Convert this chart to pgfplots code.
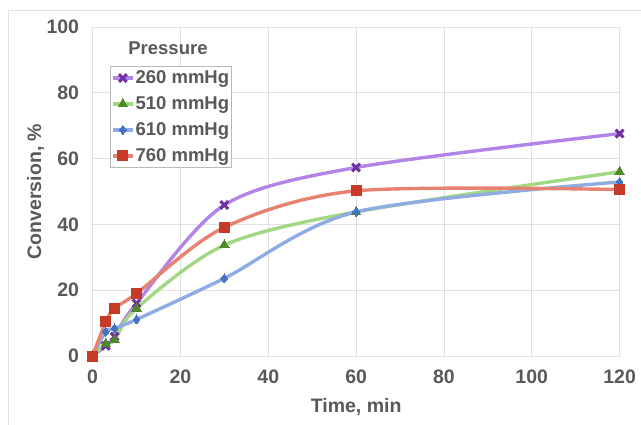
\documentclass[border=0pt]{standalone}
\usepackage{fontspec}
\setmainfont{Liberation Sans}
\usepackage{pgfplots}
\pgfplotsset{compat=1.18}
\definecolor{txt}{RGB}{89,89,89}
\definecolor{grd}{RGB}{225,225,225}
\definecolor{pl}{RGB}{178,132,232}
\definecolor{pm}{RGB}{112,48,160}
\definecolor{gl}{RGB}{162,216,132}
\definecolor{gm}{RGB}{78,138,40}
\definecolor{bl}{RGB}{142,172,226}
\definecolor{bm}{RGB}{68,114,196}
\definecolor{rl}{RGB}{232,130,112}
\definecolor{rm}{RGB}{200,58,40}
\begin{document}
\begin{tikzpicture}
\path[use as bounding box] (-92.6pt,-68pt) rectangle (548.4pt,356pt);
\draw[grd, line width=0.8pt] (-84.6pt,-80pt) -- (-84.6pt,346pt) -- (560pt,346pt);
\begin{axis}[
  scale only axis,
  width=527pt, height=329pt,
  xmin=0, xmax=120, ymin=0, ymax=100,
  xtick={0,20,...,120}, ytick={0,20,...,100},
  grid=major, grid style={grd, line width=0.8pt},
  axis line style={draw=none},
  major tick length=0pt,
  /pgf/number format/assume math mode=true,
  tick label style={font=\fontsize{19.5}{22}\selectfont\bfseries, text=txt},
  xticklabel style={yshift=-10.5pt},
  yticklabel style={xshift=-10pt},
  xlabel={Time, min},
  ylabel={Conversion, \%},
  label style={font=\fontsize{19.5}{22}\selectfont\bfseries, text=txt},
  xlabel style={at={([yshift=-56pt]axis description cs:0.5,0)}, anchor=base},
  ylabel style={at={([xshift=-51.5pt]axis description cs:0,0.5)}, anchor=base, rotate=0},
  legend style={at={(0.033,0.881)}, anchor=north west, draw=gray!55, fill=white,
    font=\fontsize{18.5}{21}\selectfont\bfseries, text=txt,
    inner xsep=1pt, inner ysep=3.5pt, row sep=9.5pt,
    nodes={inner sep=1pt}},
  legend cell align=left,
  legend image code/.code={\draw[mark repeat=2,mark phase=2] plot coordinates {(0pt,0pt) (10pt,0pt) (20pt,0pt)};},
  every axis plot/.append style={smooth, line width=3.4pt},
]
\addplot[pl, mark=x, mark options={pm, line width=3pt}, mark size=5.5pt]
  coordinates {(0,0) (3,3.1) (5,5.9) (10,16.0) (30,45.9) (60,57.3) (120,67.6)};
\addlegendentry{260 mmHg}
\addplot[gl, mark=triangle*, mark options={gm, line width=0pt, draw=gm, fill=gm}, mark size=5.5pt]
  coordinates {(0,0) (3,3.8) (5,4.9) (10,14.5) (30,33.7) (60,43.8) (120,56.0)};
\addlegendentry{510 mmHg}
\addplot[bl, mark=diamond*, mark options={bm, line width=0pt, draw=bm, fill=bm}, mark size=4.5pt]
  coordinates {(0,0) (3,7.4) (5,8.4) (10,11.1) (30,23.6) (60,43.8) (120,52.9)};
\addlegendentry{610 mmHg}
\addplot[rl, mark=square*, mark options={rm, line width=0pt, draw=rm, fill=rm}, mark size=5pt]
  coordinates {(0,0) (3,10.4) (5,14.5) (10,19.0) (30,39.1) (60,50.2) (120,50.6)};
\addlegendentry{760 mmHg}
\node[font=\fontsize{18.5}{21}\selectfont\bfseries, text=txt] at (axis description cs:0.143,0.936) {Pressure};
\end{axis}
\end{tikzpicture}
\end{document}
